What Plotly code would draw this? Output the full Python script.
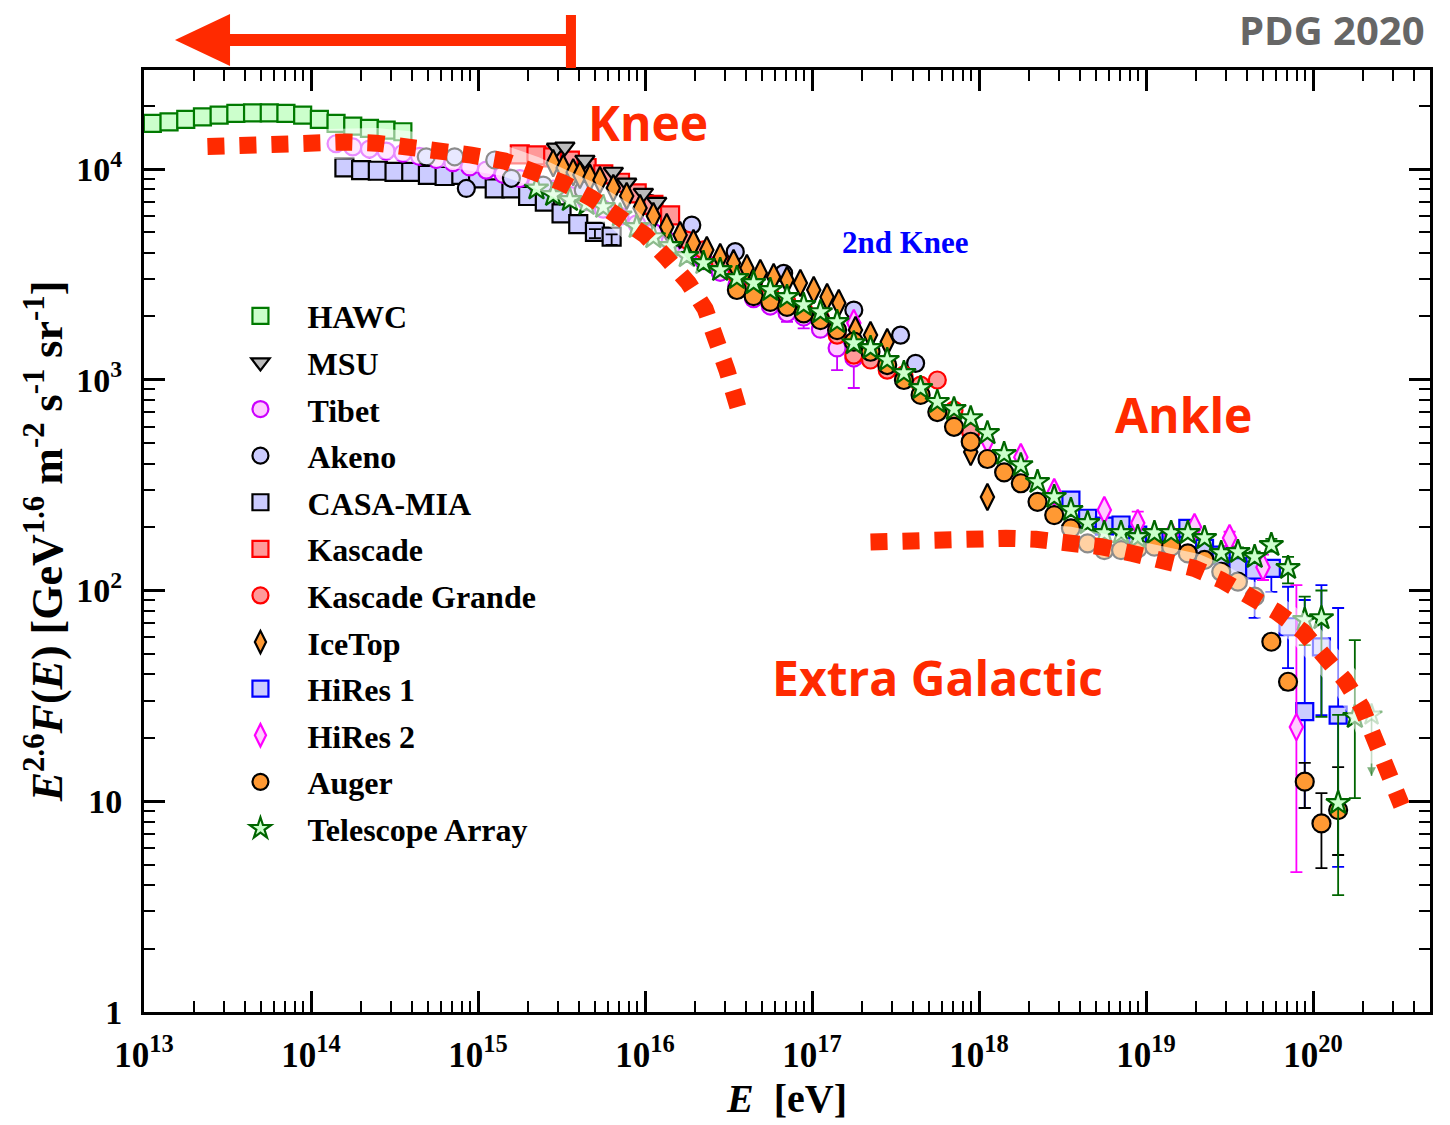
import plotly.graph_objects as go

# ------------------------------------------------------------------
# Data: log10(E / eV) and log10(E^2.6 F(E))
# ------------------------------------------------------------------
hawc_log_e = [13.05, 13.15, 13.25, 13.35, 13.45, 13.55, 13.65, 13.75, 13.85, 13.95,
              14.05, 14.15, 14.25, 14.35, 14.45, 14.55]
hawc_log_f = [4.217, 4.224, 4.236, 4.248, 4.256, 4.264, 4.267, 4.267, 4.264, 4.256,
              4.236, 4.217, 4.204, 4.193, 4.185, 4.177]

msu_log_e = [15.47, 15.52, 15.64, 15.81, 15.89, 15.99, 16.07]
msu_log_f = [4.100, 4.105, 4.043, 3.986, 3.934, 3.886, 3.843]

tibet_log_e = [14.15, 14.25, 14.35, 14.45, 14.55, 14.65, 14.75, 14.85, 14.95, 15.05,
               15.15, 15.25, 15.35, 15.45, 15.55, 15.65, 15.75, 15.85, 15.95, 16.05,
               16.15, 16.25, 16.35, 16.45, 16.55, 16.65, 16.75, 16.85, 16.95, 17.05,
               17.15, 17.25]
tibet_log_f = [4.120, 4.105, 4.095, 4.085, 4.075, 4.060, 4.045, 4.030, 4.010, 3.995,
               3.975, 3.955, 3.930, 3.905, 3.875, 3.845, 3.810, 3.775, 3.740, 3.700,
               3.655, 3.610, 3.565, 3.510, 3.450, 3.385, 3.350, 3.317, 3.298, 3.240,
               3.151, 3.103]
tibet_err_log_e = [16.85, 16.95, 17.15, 17.25]
tibet_err_log_f = [3.317, 3.298, 3.151, 3.103]
tibet_err_log_hi = [3.335, 3.315, 3.200, 3.364]
tibet_err_log_lo = [3.275, 3.244, 3.046, 2.961]

akeno_log_e = [14.69, 14.86, 14.93, 15.10, 15.20, 15.39, 15.63, 15.83, 16.03, 16.28,
               16.54, 16.83, 17.25, 17.53, 17.62]
akeno_log_f = [4.058, 4.058, 3.908, 4.043, 3.956, 3.924, 3.900, 3.932, 3.837, 3.734,
               3.608, 3.505, 3.331, 3.212, 3.078]

casa_log_e = [14.2, 14.3, 14.4, 14.5, 14.6, 14.7, 14.8, 14.9, 15.0, 15.1, 15.2, 15.3,
              15.4, 15.5, 15.6, 15.7, 15.8]
casa_log_f = [4.008, 3.995, 3.992, 3.987, 3.987, 3.972, 3.967, 3.972, 3.956, 3.908,
              3.908, 3.872, 3.845, 3.790, 3.739, 3.702, 3.679]
casa_err_log_e = [15.7, 15.8]
casa_err_log_f = [3.702, 3.679]
casa_err_log_hi = [3.715, 3.690]
casa_err_log_lo = [3.672, 3.640]

kascade_log_e = [15.25, 15.35, 15.45, 15.55, 15.65, 15.75, 15.85, 15.95, 16.05, 16.15]
kascade_log_f = [4.070, 4.065, 4.055, 4.040, 4.005, 3.975, 3.935, 3.885, 3.830, 3.780]

kg_log_e = [16.25, 16.35, 16.45, 16.55, 16.65, 16.75, 16.85, 16.95, 17.05, 17.15,
            17.25, 17.35, 17.45, 17.55, 17.65, 17.75, 17.85, 17.95]
kg_log_f = [3.663, 3.616, 3.559, 3.497, 3.440, 3.402, 3.369, 3.331, 3.293, 3.212,
            3.117, 3.094, 3.046, 3.023, 2.975, 2.999, 2.856, 2.752]

icetop_log_e = [15.45, 15.51, 15.57, 15.61, 15.67, 15.73, 15.81, 15.89, 15.97, 16.05,
                16.13, 16.21, 16.29, 16.37, 16.45, 16.53, 16.61, 16.69, 16.77, 16.85,
                16.93, 17.01, 17.09, 17.16, 17.26, 17.35, 17.45, 17.95, 18.05]
icetop_log_f = [4.028, 4.005, 3.985, 3.972, 3.960, 3.948, 3.910, 3.872, 3.815, 3.777,
                3.725, 3.687, 3.649, 3.616, 3.582, 3.554, 3.530, 3.507, 3.488, 3.473,
                3.459, 3.426, 3.393, 3.364, 3.236, 3.212, 3.179, 2.657, 2.444]

hires1_log_e = [18.55, 18.65, 18.75, 18.85, 18.95, 19.05, 19.15, 19.25, 19.35, 19.45,
                19.55, 19.65, 19.75, 19.85, 19.95, 20.05, 20.15]
hires1_log_f = [2.429, 2.343, 2.306, 2.311, 2.263, 2.240, 2.240, 2.295, 2.200, 2.168,
                2.113, 2.097, 2.105, 1.828, 1.425, 1.733, 1.409]
hires1_err_log_e = [19.65, 19.75, 19.85, 19.95, 20.05, 20.15]
hires1_err_log_f = [2.097, 2.105, 1.828, 1.425, 1.733, 1.409]
hires1_err_log_hi = [2.150, 2.145, 2.018, 1.955, 2.026, 1.917]
hires1_err_log_lo = [1.870, 1.994, 1.632, 0.968, 1.409, 0.689]

hires2_log_e = [17.25, 18.05, 18.25, 18.45, 18.75, 18.95, 19.15, 19.29, 19.50, 19.70, 19.90]
hires2_log_f = [3.269, 2.714, 2.633, 2.467, 2.382, 2.320, 2.263, 2.301, 2.249, 2.111, 1.352]
hires2_err_log_e = [18.95, 19.50, 19.70, 19.90]
hires2_err_log_f = [2.320, 2.249, 2.111, 1.352]
hires2_err_log_hi = [2.374, 2.279, 2.170, 2.026]
hires2_err_log_lo = [2.270, 2.210, 2.050, 0.664]

auger_log_e = [16.55, 16.65, 16.75, 16.85, 16.95, 17.05, 17.15, 17.25, 17.35, 17.45,
               17.55, 17.65, 17.75, 17.85, 17.95, 18.05, 18.15, 18.25, 18.35, 18.45,
               18.55, 18.65, 18.75, 18.85, 18.95, 19.05, 19.15, 19.25, 19.35, 19.45,
               19.55, 19.65, 19.75, 19.85, 19.95, 20.05, 20.15]
auger_log_f = [3.426, 3.397, 3.370, 3.346, 3.315, 3.283, 3.236, 3.181, 3.133, 3.070,
               2.999, 2.928, 2.847, 2.777, 2.706, 2.624, 2.561, 2.509, 2.421, 2.358,
               2.295, 2.224, 2.192, 2.192, 2.200, 2.208, 2.208, 2.176, 2.145, 2.089,
               2.042, 1.971, 1.757, 1.567, 1.093, 0.895, 0.958]
auger_err_log_e = [19.75, 19.85, 19.95, 20.05, 20.15]
auger_err_log_f = [1.757, 1.567, 1.093, 0.895, 0.958]
auger_err_log_hi = [1.780, 1.600, 1.182, 1.039, 1.162]
auger_err_log_lo = [1.730, 1.530, 0.968, 0.683, 0.745]

ta_log_e = [15.35, 15.45, 15.55, 15.65, 15.75, 15.85, 15.95, 16.05, 16.15, 16.25,
            16.35, 16.45, 16.55, 16.65, 16.75, 16.85, 16.95, 17.05, 17.15, 17.25,
            17.35, 17.45, 17.55, 17.65, 17.75, 17.85, 17.95, 18.05, 18.15, 18.25,
            18.35, 18.45, 18.55, 18.65, 18.75, 18.85, 18.95, 19.05, 19.15, 19.25,
            19.35, 19.45, 19.55, 19.65, 19.75, 19.85, 19.95, 20.05, 20.15, 20.25]
ta_log_f = [3.908, 3.877, 3.853, 3.834, 3.820, 3.780, 3.725, 3.677, 3.635, 3.587,
            3.554, 3.521, 3.483, 3.459, 3.426, 3.393, 3.355, 3.321, 3.274, 3.174,
            3.151, 3.094, 3.032, 2.961, 2.895, 2.861, 2.818, 2.747, 2.648, 2.595,
            2.515, 2.444, 2.382, 2.320, 2.273, 2.273, 2.254, 2.273, 2.273, 2.273,
            2.249, 2.178, 2.183, 2.159, 2.216, 2.107, 1.860, 1.869, 0.992, 1.400]
ta_err_log_e = [19.55, 19.65, 19.75, 19.85, 19.95, 20.05, 20.15, 20.25]
ta_err_log_f = [2.183, 2.159, 2.216, 2.107, 1.860, 1.869, 0.992, 1.400]
ta_err_log_hi = [2.205, 2.185, 2.245, 2.160, 1.971, 2.000, 1.410, 1.765]
ta_err_log_lo = [2.160, 2.130, 2.185, 2.034, 1.741, 1.400, 0.555, 1.015]
ta_ul_log_e = [20.35]
ta_ul_log_f = [1.410]
ta_ul_log_lo = [1.120]

# model curves (dotted red)
galactic_log_e = [13.38, 13.43, 13.63, 13.82, 14.02, 14.20, 14.39, 14.58, 14.77, 14.96,
                  15.16, 15.33, 15.51, 15.68, 15.85, 16.00, 16.13, 16.26, 16.36, 16.43,
                  16.49, 16.56]
galactic_log_f = [4.107, 4.109, 4.119, 4.123, 4.128, 4.128, 4.123, 4.109, 4.090, 4.066,
                  4.038, 3.990, 3.934, 3.862, 3.780, 3.687, 3.578, 3.459, 3.336, 3.190,
                  3.046, 2.860]
extragal_log_e = [17.35, 17.40, 17.59, 17.77, 17.96, 18.16, 18.34, 18.54, 18.73, 18.92,
                  19.11, 19.29, 19.45, 19.62, 19.78, 19.94, 20.07, 20.19, 20.29, 20.37,
                  20.44, 20.53]
extragal_log_f = [2.230, 2.232, 2.240, 2.248, 2.252, 2.248, 2.243, 2.232, 2.208, 2.176,
                  2.148, 2.105, 2.050, 1.979, 1.900, 1.805, 1.694, 1.575, 1.449, 1.306,
                  1.172, 0.980]

x_tick_exps = [13, 14, 15, 16, 17, 18, 19, 20]
y_tick_vals = [1.0, 10.0, 100.0, 1000.0, 10000.0]
y_tick_text = ["1", "10", "10<sup>2</sup>", "10<sup>3</sup>", "10<sup>4</sup>"]

legend_order = ["HAWC", "MSU", "Tibet", "Akeno", "CASA-MIA", "Kascade", "Kascade Grande",
                "IceTop", "HiRes 1", "HiRes 2", "Auger", "Telescope Array"]

RED = "#ff2a00"
SERIF = "Liberation Serif"
SANS = "Open Sans"


def lin(a):
    return [10.0 ** v for v in a]


fig = go.Figure()


def add_err(log_e, log_f, log_hi, log_lo, color, width=1.8, cap=6):
    y = lin(log_f)
    fig.add_trace(go.Scatter(
        x=lin(log_e), y=y, mode="markers", marker=dict(size=1, opacity=0),
        showlegend=False, hoverinfo="skip",
        error_y=dict(type="data", symmetric=False,
                     array=[10.0 ** h - v for h, v in zip(log_hi, y)],
                     arrayminus=[v - 10.0 ** l for l, v in zip(log_lo, y)],
                     color=color, thickness=width, width=cap)))


def add_series(name, log_e, log_f, symbol, fill, edge, size=17, lw=2.2):
    fig.add_trace(go.Scatter(
        x=lin(log_e), y=lin(log_f), mode="markers", name=name,
        legendgroup=name, legendrank=legend_order.index(name) + 1,
        marker=dict(symbol=symbol, size=size, color=fill,
                    line=dict(color=edge, width=lw))))


add_series("HAWC", hawc_log_e, hawc_log_f, "square", "#ccffcc", "#007a00", 17)
add_series("CASA-MIA", casa_log_e, casa_log_f, "square", "#ccccff", "black", 18)
add_err(casa_err_log_e, casa_err_log_f, casa_err_log_hi, casa_err_log_lo, "black")
add_err(tibet_err_log_e, tibet_err_log_f, tibet_err_log_hi, tibet_err_log_lo, "#cc00ff")
add_series("Tibet", tibet_log_e, tibet_log_f, "circle", "#ffccff", "#cc00ff", 17)
add_series("Akeno", akeno_log_e, akeno_log_f, "circle", "#ccccff", "black", 17)
add_series("Kascade", kascade_log_e, kascade_log_f, "square", "#ff9999", "#ff0000", 18)
add_series("MSU", msu_log_e, msu_log_f, "triangle-down", "#bbbbbb", "black", 17)
add_series("Kascade Grande", kg_log_e, kg_log_f, "circle", "#ff9999", "#ff0000", 17)
add_err(hires1_err_log_e, hires1_err_log_f, hires1_err_log_hi, hires1_err_log_lo, "#0000ff")
add_series("HiRes 1", hires1_log_e, hires1_log_f, "square", "#ccccff", "#0000ff", 17)
add_err(hires2_err_log_e, hires2_err_log_f, hires2_err_log_hi, hires2_err_log_lo, "#ff00ff")
add_series("HiRes 2", hires2_log_e, hires2_log_f, "diamond-tall", "#ffccff", "#ff00ff", 19)
add_series("IceTop", icetop_log_e, icetop_log_f, "diamond-tall", "#ff9933", "black", 19)
add_err(auger_err_log_e, auger_err_log_f, auger_err_log_hi, auger_err_log_lo, "black")
add_series("Auger", auger_log_e, auger_log_f, "circle", "#ff9933", "black", 18)
add_err(ta_err_log_e, ta_err_log_f, ta_err_log_hi, ta_err_log_lo, "#006600")
add_series("Telescope Array", ta_log_e, ta_log_f, "star", "#ccffcc", "#006600", 18)

# TA upper limit (faded star with downward arrow)
fig.add_trace(go.Scatter(
    x=lin(ta_ul_log_e), y=lin(ta_ul_log_f), mode="markers", showlegend=False,
    marker=dict(symbol="star", size=16, color="rgba(204,255,204,0.5)",
                line=dict(color="rgba(0,102,0,0.45)", width=2)),
    error_y=dict(type="data", symmetric=False, array=[0.0],
                 arrayminus=[10.0 ** f - 10.0 ** l for f, l in zip(ta_ul_log_f, ta_ul_log_lo)],
                 color="rgba(0,102,0,0.5)", thickness=1.6, width=0)))
for le, lo in zip(ta_ul_log_e, ta_ul_log_lo):
    fig.add_annotation(x=le, y=lo, xref="x", yref="y", ax=0, ay=-14, showarrow=True,
                       arrowhead=2, arrowsize=1.1, arrowwidth=1.6,
                       arrowcolor="rgba(0,102,0,0.5)", text="")

# model curves with a white halo
for le, lf in ((galactic_log_e, galactic_log_f), (extragal_log_e, extragal_log_f)):
    fig.add_trace(go.Scatter(x=lin(le), y=lin(lf), mode="lines", showlegend=False,
                             hoverinfo="skip", opacity=0.55,
                             line=dict(color="white", width=30)))
    fig.add_trace(go.Scatter(x=lin(le), y=lin(lf), mode="lines", showlegend=False,
                             hoverinfo="skip",
                             line=dict(color=RED, width=17, dash="17px,15px")))

minor_x = [m * 10.0 ** e for e in range(13, 21) for m in range(2, 10)]
minor_y = [m * 10.0 ** e for e in range(0, 5) for m in range(2, 10)]

axis_common = dict(type="log", showgrid=False, zeroline=False, showline=True,
                   linewidth=3, linecolor="black", mirror="allticks",
                   ticks="inside", ticklen=21, tickwidth=2.5, tickcolor="black")

fig.update_xaxes(
    **axis_common, range=[13, 20.70],
    tickvals=[10.0 ** e for e in x_tick_exps],
    ticktext=["10<sup>%d</sup>" % e for e in x_tick_exps],
    tickfont=dict(family=SERIF, size=35, color="black", weight="bold"),
    ticklabelstandoff=10,
    minor=dict(ticks="inside", ticklen=11, tickwidth=2, tickcolor="black", tickvals=minor_x),
    title=dict(text="<i>E</i>  [eV]", standoff=10,
               font=dict(family=SERIF, size=40, color="black", weight="bold")))

fig.update_yaxes(
    **axis_common, range=[0, 4.47],
    tickvals=y_tick_vals, ticktext=y_tick_text,
    tickfont=dict(family=SERIF, size=34, color="black", weight="bold"),
    ticklabelstandoff=12,
    minor=dict(ticks="inside", ticklen=11, tickwidth=2, tickcolor="black", tickvals=minor_y),
    title=dict(text="<i>E</i><sup>2.6</sup><i>F</i>(<i>E</i>) [GeV<sup>1.6</sup> m<sup>-2</sup> s<sup>-1</sup> sr<sup>-1</sup>]",
               standoff=0,
               font=dict(family=SERIF, size=44, color="black", weight="bold")))

# text labels
labels = [
    ("Knee", 0.392, 0.9440, RED, SANS, 48),
    ("Ankle", 0.808, 0.6338, RED, SANS, 48),
    ("Extra Galactic", 0.6174, 0.3550, RED, SANS, 48),
    ("2nd Knee", 0.5925, 0.8174, "#0000ff", SERIF, 31),
    ("PDG 2020", 0.9238, 1.0425, "#666666", SANS, 40),
]
for txt, x, y, col, fam, sz in labels:
    fig.add_annotation(x=x, y=y, xref="paper", yref="paper", text=txt, showarrow=False,
                       xanchor="center", yanchor="middle",
                       font=dict(family=fam, size=sz, color=col, weight="bold"))

# red arrow pointing to low energies
fig.add_shape(type="path", xref="paper", yref="paper",
              path="M 0.0241 1.0318 L 0.0669 1.0594 L 0.0669 1.0382 L 0.3300 1.0382 "
                   "L 0.3300 1.0255 L 0.0669 1.0255 L 0.0669 1.0042 Z",
              fillcolor=RED, line=dict(width=0))
fig.add_shape(type="rect", xref="paper", yref="paper",
              x0=0.3281, x1=0.3359, y0=1.0021, y1=1.0584,
              fillcolor=RED, line=dict(width=0))

fig.update_layout(
    width=1450, height=1125,
    margin=dict(l=144, r=20, t=70, b=113),
    paper_bgcolor="white", plot_bgcolor="white",
    showlegend=True,
    legend=dict(x=0.054, y=0.768, xanchor="left", yanchor="top",
                bgcolor="rgba(0,0,0,0)", itemwidth=84, tracegroupgap=2,
                font=dict(family=SERIF, size=32, color="black", weight="bold")),
)

fig.write_html("out.html")
